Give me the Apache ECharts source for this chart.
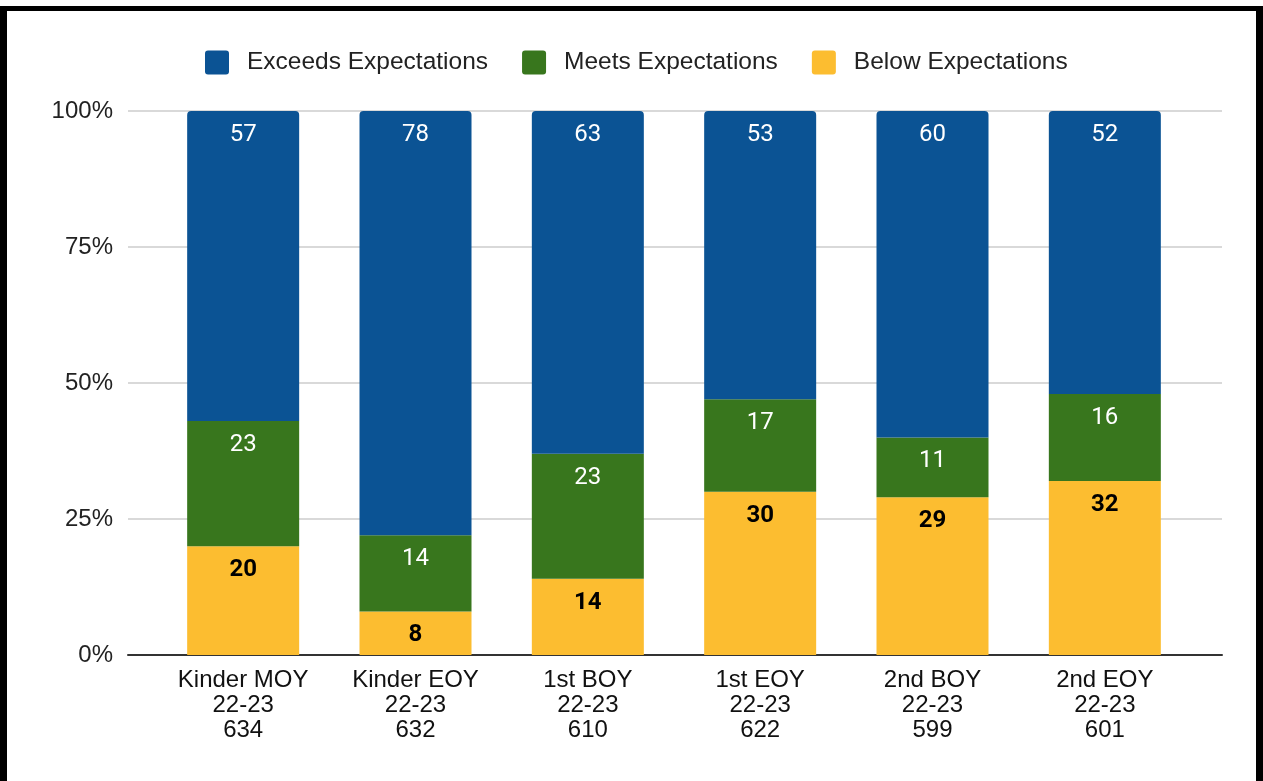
<!DOCTYPE html>
<html>
<head>
<meta charset="utf-8">
<script src="https://cdn.jsdelivr.net/npm/echarts@6/dist/echarts.min.js"></script>
<style>
html,body{margin:0;padding:0;background:#fff;width:1263px;height:781px;overflow:hidden;}
#frame{position:absolute;left:0;top:6px;width:1249px;height:800px;border-left:7px solid #000;border-right:7px solid #000;border-top:5px solid #000;}
#chart{position:absolute;left:0;top:0;width:1263px;height:781px;}
</style>
</head>
<body>
<div id="frame"></div>
<div id="chart"></div>
<script>
const categories = ['Kinder MOY\n22-23\n634','Kinder EOY\n22-23\n632','1st BOY\n22-23\n610','1st EOY\n22-23\n622','2nd BOY\n22-23\n599','2nd EOY\n22-23\n601'];
const seriesNames = ['Exceeds Expectations','Meets Expectations','Below Expectations'];
const belowValues = [20, 8, 14, 30, 29, 32];
const meetsValues = [23, 14, 23, 17, 11, 16];
const exceedsValues = [57, 78, 63, 53, 60, 52];
const yTicks = [0, 25, 50, 75, 100];

const colors = {exceeds:'#0b5394', meets:'#38761d', below:'#fcbd30'};
const chart = echarts.init(document.getElementById('chart'), null, {renderer:'canvas'});
const labelBase = {show:true, position:'insideTop', distance:12, fontFamily:'Roboto', fontSize:24};

chart.setOption({
  animation:false,
  backgroundColor:'transparent',
  legend:{
    data:seriesNames,
    left:200, top:45,
    itemWidth:24, itemHeight:24, itemGap:34,
    icon:'path://M3,0 L21,0 Q24,0 24,3 L24,21 Q24,24 21,24 L3,24 Q0,24 0,21 L0,3 Q0,0 3,0 Z',
    textStyle:{fontFamily:'Liberation Sans, Arial', fontSize:24.5, color:'#222', padding:[0,0,0,13]}
  },
  grid:[
    {left:128, right:41, top:111, bottom:126},
    {left:157, right:72, top:111, bottom:126}
  ],
  xAxis:[
    {gridIndex:0, type:'category', data:[''], axisLine:{show:true, lineStyle:{color:'#333', width:2}}, axisTick:{show:false}, axisLabel:{show:false}},
    {gridIndex:1, type:'category', data:categories, axisLine:{show:false}, axisTick:{show:false},
     axisLabel:{fontFamily:'Liberation Sans, Arial', fontSize:24, color:'#111', lineHeight:25, margin:13, interval:0}}
  ],
  yAxis:[
    {gridIndex:0, type:'value', min:yTicks[0], max:yTicks[yTicks.length-1], interval:25,
     axisLabel:{formatter:v=>v+'%', fontFamily:'Liberation Sans, Arial', fontSize:24, color:'#222', margin:15},
     axisLine:{show:false}, axisTick:{show:false},
     splitLine:{lineStyle:{color:'#cccccc', width:1.5}}},
    {gridIndex:1, type:'value', min:0, max:100, show:false, splitLine:{show:false}}
  ],
  series:[
    {name:'Below Expectations', type:'bar', stack:'s', xAxisIndex:1, yAxisIndex:1, barWidth:112, data:belowValues,
     itemStyle:{color:colors.below},
     label:Object.assign({}, labelBase, {color:'#000', fontWeight:'bold'})},
    {name:'Meets Expectations', type:'bar', stack:'s', xAxisIndex:1, yAxisIndex:1, barWidth:112, data:meetsValues,
     itemStyle:{color:colors.meets},
     label:Object.assign({}, labelBase, {color:'#fff'})},
    {name:'Exceeds Expectations', type:'bar', stack:'s', xAxisIndex:1, yAxisIndex:1, barWidth:112, data:exceedsValues,
     itemStyle:{color:colors.exceeds, borderRadius:[4,4,0,0]},
     label:Object.assign({}, labelBase, {color:'#fff'})}
  ]
});
</script>
</body>
</html>
